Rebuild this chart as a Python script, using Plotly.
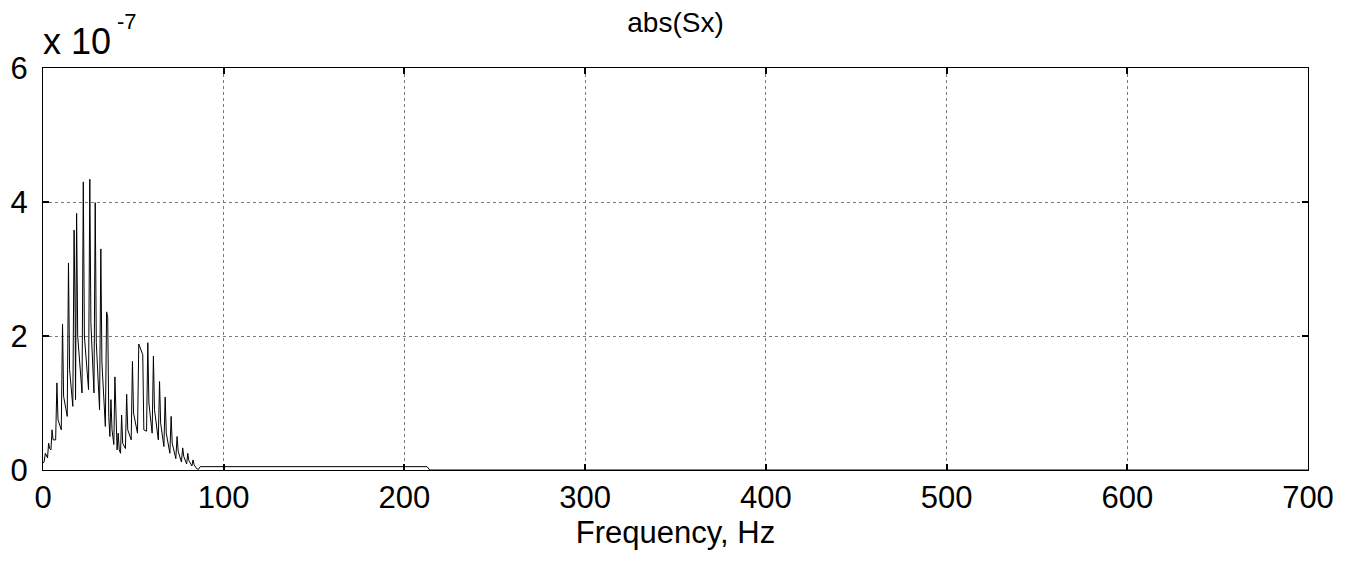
import plotly.graph_objects as go

# Frequency bins (Hz) and |Sx| values in units of 1e-7
freq_hz = [
    0.0, 0.6, 1.3, 1.9, 2.5, 3.1, 3.7, 4.4, 5.0, 5.6,
    7.0, 7.7, 8.3, 10.1, 10.8, 11.4, 13.4, 14.1, 14.7,
    16.5, 17.2, 17.8, 18.0, 18.6, 19.2, 21.6, 22.3, 22.9,
    25.2, 25.9, 26.5, 28.2, 28.9, 29.5, 31.3, 32.0, 32.6,
    34.5, 35.2, 35.8, 36.4, 37.0, 37.6, 38.2, 39.2, 39.8, 40.4,
    41.0, 41.6, 42.2, 42.9, 43.5, 44.1, 45.6, 46.3, 46.9,
    48.8, 49.5, 50.1, 52.3, 53.0, 54.2, 55.2, 55.8,
    57.3, 58.0, 58.6, 60.4, 61.1, 61.7, 63.8, 64.5, 65.1,
    66.9, 67.6, 68.2, 70.2, 70.9, 71.5, 73.5, 74.2, 74.8,
    76.6, 77.3, 77.9, 79.5, 80.1, 80.7, 82.4, 83.0, 83.6,
    85.0, 86.0, 87.0, 212.5, 214.0, 700.0,
]
sx_e7 = [
    0.10, 0.12, 0.25, 0.20, 0.18, 0.40, 0.32, 0.30, 0.60, 0.45,
    0.45, 1.30, 0.75, 0.60, 2.18, 1.10, 0.80, 3.09, 1.50,
    0.95, 3.58, 2.30, 1.05, 3.83, 2.00, 1.15, 4.30, 2.00,
    1.20, 4.34, 2.20, 1.15, 3.99, 1.90, 0.90, 3.30, 1.60,
    0.65, 2.36, 2.28, 0.80, 0.50, 1.05, 0.60, 0.38, 1.39, 0.70,
    0.30, 0.55, 0.30, 0.25, 0.82, 0.40, 0.32, 1.13, 0.60,
    0.45, 1.62, 0.85, 0.55, 1.88, 1.80, 1.72, 0.60,
    0.58, 1.90, 1.00, 0.55, 1.70, 0.90, 0.45, 1.32, 0.70,
    0.35, 1.09, 0.55, 0.25, 0.80, 0.40, 0.17, 0.50, 0.28,
    0.12, 0.33, 0.20, 0.09, 0.25, 0.14, 0.06, 0.15, 0.08,
    0.02, 0.01, 0.05, 0.05, 0.00, 0.00,
]
x_ticks = [0, 100, 200, 300, 400, 500, 600, 700]
y_ticks_e7 = [0, 2, 4, 6]

sx = [v * 1e-7 for v in sx_e7]

FONT = "Liberation Sans, Arial, sans-serif"

fig = go.Figure()
fig.add_trace(go.Scatter(
    x=freq_hz, y=sx, mode="lines",
    line=dict(color="black", width=1),
    showlegend=False,
))

axis_common = dict(
    showline=True, linecolor="black", linewidth=1, mirror="ticks",
    ticks="inside", ticklen=6, tickwidth=2, tickcolor="black",
    showgrid=True, gridcolor="#7a7a7a", griddash="dot", gridwidth=1,
    zeroline=False, automargin=False,
    tickfont=dict(family=FONT, size=31, color="black"),
)

fig.update_xaxes(
    range=[0, 700], tickvals=x_ticks, ticktext=[str(t) for t in x_ticks],
    title=dict(text="Frequency, Hz", font=dict(family=FONT, size=31, color="black"), standoff=2),
    **axis_common,
)
fig.update_yaxes(
    range=[0, 6e-7], tickvals=[t * 1e-7 for t in y_ticks_e7],
    ticktext=[str(t) for t in y_ticks_e7],
    ticklabelstandoff=8,
    **axis_common,
)

fig.update_layout(
    width=1347, height=574,
    margin=dict(l=35, r=47, t=60, b=112),
    paper_bgcolor="white", plot_bgcolor="white",
    title=dict(text="abs(Sx)", x=0.5, xanchor="center", xref="paper",
               y=0.9756, yanchor="middle",
               font=dict(family=FONT, size=28, color="black")),
    annotations=[
        dict(text="x 10", xref="paper", yref="paper",
             x=0.0, y=1.0, xanchor="left", yanchor="bottom", xshift=-2, yshift=4,
             showarrow=False, font=dict(family=FONT, size=36, color="black")),
        dict(text="-7", xref="paper", yref="paper",
             x=0.0, y=1.0, xanchor="left", yanchor="bottom", xshift=72, yshift=32,
             showarrow=False, font=dict(family=FONT, size=22, color="black")),
    ],
)

fig.write_html("out.html")
